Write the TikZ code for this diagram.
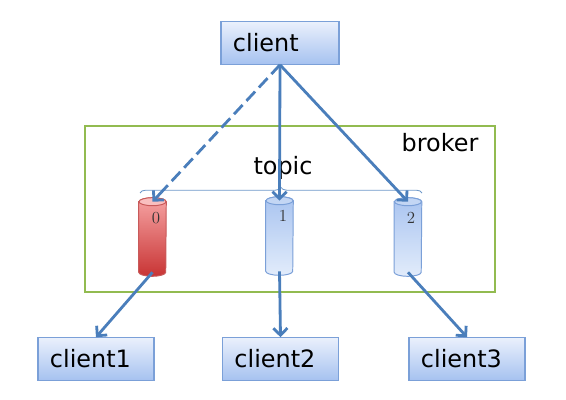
\documentclass[tikz,border=0pt]{standalone}
\usepackage{fontspec}
\newfontfamily\labelfont{DejaVu Sans}
\usetikzlibrary{arrows.meta,decorations.pathreplacing,shadows,calc}
\definecolor{linkblue}{HTML}{4A7EBB}
\definecolor{boxline}{HTML}{7BA0D8}
\definecolor{boxtop}{HTML}{EAF0FC}
\definecolor{boxbottom}{HTML}{A6C2F0}
\definecolor{frame}{HTML}{92BB50}
\definecolor{redtop}{HTML}{F6A3A3}
\definecolor{redbottom}{HTML}{C83434}
\definecolor{redline}{HTML}{C85A5A}
\definecolor{bluetop}{HTML}{A9C4F0}
\definecolor{bluebottom}{HTML}{E2ECFB}
\definecolor{blueline}{HTML}{7BA0D8}
\tikzset{
	clientbox/.style={shape=rectangle, draw=boxline, line width=0.8pt, top color=boxtop, bottom color=boxbottom,
		minimum height=1cm, text width=2.3cm, inner sep=0.3cm, align=left,
		font=\labelfont\fontsize{17}{20}\selectfont, drop shadow={shadow xshift=0.6pt, shadow yshift=-0.8pt, opacity=0.25}},
	partbody/.style={shape=rectangle, inner sep=0pt, minimum width=0.675cm, minimum height=1.75cm},
	endcap/.style={x radius=0.3375cm, y radius=0.1cm},
	wire/.style={draw=linkblue, line width=2pt},
	link/.style={wire, -{Straight Barb[length=5pt,width=10pt,line width=2pt]}},
	idx/.style={font=\fontsize{12}{14}\selectfont, text=black!80}
}
\begin{document}
\begin{tikzpicture}[x=0.025cm, y=-0.025cm]
	\useasboundingbox (0,0) rectangle (566,400);
	% Nodes:
	\node[clientbox, text width=2.35cm](client) at (280, 43){client};
	\draw[frame, line width=1.4pt] (85, 126) rectangle (495, 292);
	\node[font=\labelfont\fontsize{17}{20}\selectfont](broker) at (440, 143){broker};
	\node[font=\labelfont\fontsize{17}{20}\selectfont](topic) at (283, 168){topic};
	\draw[linkblue!80, line width=0.6pt, decorate, decoration={brace, amplitude=4pt}] (140, 193) -- (422, 193);
	\node[partbody](c0) at (152.5, 237){};
	\node[partbody](c1) at (279.5, 236){};
	\node[partbody](c2) at (408, 237){};
	\foreach \n/\ctop/\cbottom/\cline in {c0/redtop/redbottom/redline, c1/bluetop/bluebottom/blueline, c2/bluetop/bluebottom/blueline}{
		\shade[top color=\ctop, bottom color=\cbottom, draw=\cline, line width=0.7pt] (\n.north west) -- (\n.south west)
			arc[start angle=180, end angle=360, endcap] -- (\n.north east) arc[start angle=0, end angle=180, endcap] -- cycle;
		\draw[fill=\ctop!70!white, draw=\cline, line width=0.7pt] (\n.north) ellipse[endcap];
	}
	\node[idx](n0) at (156, 218){0};
	\node[idx](n1) at (283, 216){1};
	\node[idx](n2) at (411, 218){2};
	\node[clientbox](client1) at (96, 359){client1};
	\node[clientbox](client2) at (280.5, 359){client2};
	\node[clientbox](client3) at (467, 359){client3};
	% Wires:
	\coordinate (tip0) at ($(c0.north)!9pt!(client.south)$);
	\draw[wire, dash pattern=on 9pt off 4pt] (client.south) -- (tip0);
	\draw[link] (tip0) -- (c0.north);
	\draw[link] (client.south) -- (c1.north);
	\draw[link] (client.south) -- (c2.north);
	\draw[link] (c0.south) -- (client1.north);
	\draw[link] (c1.south) -- (client2.north);
	\draw[link] (c2.south) -- (client3.north);
\end{tikzpicture}
\end{document}
